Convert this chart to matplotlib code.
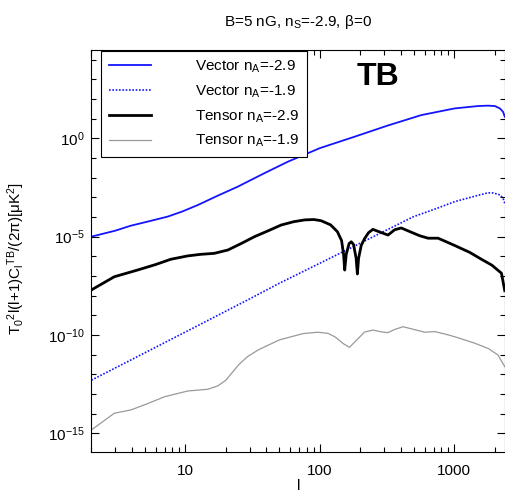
import numpy as np
import matplotlib
matplotlib.use("Agg")
import matplotlib.pyplot as plt
from matplotlib.ticker import FixedLocator, NullFormatter, LogFormatterSciNotation

plt.rcParams['font.family'] = ['Liberation Sans', 'DejaVu Sans']
plt.rcParams['mathtext.fontset'] = 'custom'
plt.rcParams['mathtext.rm'] = 'Liberation Sans'
plt.rcParams['mathtext.it'] = 'Liberation Sans:italic'
plt.rcParams['mathtext.bf'] = 'Liberation Sans:bold'

# multipole l and log10 of T0^2 l(l+1) C_l^TB / 2pi
l_vec29 = [2, 3.0, 3.9, 5.5, 7.4, 9.5, 12.4, 17, 24.5, 38, 57.8, 100, 181, 320, 568, 1006, 1500, 1780, 2000, 2180, 2300, 2370]
y_vec29 = [-5.0, -4.7, -4.45, -4.2, -3.98, -3.72, -3.39, -2.95, -2.46, -1.8, -1.19, -0.5, 0.08, 0.65, 1.18, 1.52, 1.64, 1.66, 1.64, 1.52, 1.35, 1.10]

l_vec19 = [2, 10.4, 29, 50, 158, 495, 750, 1006, 1500, 1780, 1950, 2190, 2300, 2370]
y_vec19 = [-12.3, -9.79, -8.22, -7.37, -5.68, -3.99, -3.55, -3.22, -2.9, -2.77, -2.78, -2.88, -3.05, -3.3]

l_ten29 = [2, 2.96, 4.4, 6, 7.8, 10.4, 13, 16.4, 20.7, 26, 32.7, 42, 51.5, 64, 77, 90, 102, 120, 135, 145,
           150, 153, 157, 165, 171, 178, 186, 190, 194, 203, 215, 230, 248, 275, 321,
           360, 403, 450, 550, 637, 757, 1006, 1300, 1589, 1900, 2240, 2370]
y_ten29 = [-7.71, -7.04, -6.70, -6.42, -6.15, -5.98, -5.9, -5.85, -5.68, -5.35, -5.0, -4.68, -4.41, -4.24, -4.15, -4.13, -4.19, -4.40, -4.75, -5.2,
           -5.9, -6.70, -5.9, -5.35, -5.26, -5.4, -6.1, -6.90, -6.1, -5.45, -5.1, -4.8, -4.63, -4.75, -4.92,
           -4.65, -4.56, -4.7, -4.95, -5.08, -5.08, -5.45, -5.8, -6.15, -6.45, -6.86, -7.75]

l_ten19 = [2, 2.96, 3.94, 5.2, 7.0, 10.4, 14.7, 17.4, 20, 25, 29, 35, 50, 75, 96.6, 115, 129, 150, 166,
           185, 215, 248, 290, 321, 360, 415, 500, 603, 715, 850, 1006, 1420, 1800, 2110, 2370]
y_ten19 = [-14.83, -13.98, -13.81, -13.5, -13.14, -12.85, -12.76, -12.59, -12.3, -11.5, -11.10, -10.75, -10.25, -9.93, -9.86, -9.92, -10.09, -10.45, -10.63,
           -10.3, -9.85, -9.75, -9.85, -9.88, -9.72, -9.58, -9.72, -9.86, -9.83, -9.95, -10.09, -10.42, -10.7, -11.02, -11.61]

fig = plt.figure(figsize=(5.05, 4.93), dpi=100)
ax = fig.add_axes([0.181, 0.0832, 0.819, 0.8154])

ax.plot(l_vec29, 10.0 ** np.array(y_vec29), color='#1414ff', lw=1.3, label=r'Vector n$_\mathrm{A}$=-2.9')
ax.plot(l_vec19, 10.0 ** np.array(y_vec19), color='#1414ff', lw=1.2, ls=(0, (1, 1)), label=r'Vector n$_\mathrm{A}$=-1.9')
ax.plot(l_ten29, 10.0 ** np.array(y_ten29), color='black', lw=2.0, label=r'Tensor n$_\mathrm{A}$=-2.9')
ax.plot(l_ten19, 10.0 ** np.array(y_ten19), color='#999999', lw=0.9, label=r'Tensor n$_\mathrm{A}$=-1.9')

ax.set_xscale('log')
ax.set_yscale('log')
ax.set_xlim(2, 2380)
ax.set_ylim(10 ** -15.95, 10 ** 4.49)

ax.xaxis.set_major_locator(FixedLocator([10, 100, 1000]))
ax.xaxis.set_major_formatter(plt.FuncFormatter(lambda v, p: '%d' % v))
ax.xaxis.set_minor_locator(FixedLocator([d * 10 ** k for k in range(0, 4) for d in range(2, 10)]))
ax.xaxis.set_minor_formatter(NullFormatter())
ax.yaxis.set_major_locator(FixedLocator([1e-15, 1e-10, 1e-5, 1]))
ax.yaxis.set_major_formatter(LogFormatterSciNotation())
ax.yaxis.set_minor_locator(FixedLocator(10.0 ** np.arange(-16, 5)))
ax.yaxis.set_minor_formatter(NullFormatter())

ax.tick_params(which='both', direction='in', top=True, right=True, labelsize=11, width=0.8)
ax.tick_params(which='major', length=6)
ax.tick_params(which='minor', length=3.5)
ax.tick_params(axis='x', which='major', pad=9)
ax.tick_params(axis='y', which='major', pad=5)

ax.set_xlabel('l', fontsize=11)
ax.xaxis.set_label_coords(0.5, -0.068)
ax.set_ylabel('T$_0$$^2$l(l+1)C$_\\mathrm{l}$$^\\mathrm{TB}$/(2π)[μK$^2$]', fontsize=11)
ax.yaxis.set_label_coords(-0.156, 0.48)

fig.text(0.59, 0.955, 'B=5 nG, n$_\\mathrm{S}$=-2.9, β=0', ha='center', va='center', fontsize=11)
ax.text(0.693, 0.933, 'TB', transform=ax.transAxes, ha='center', va='center',
        fontsize=23, fontweight='bold')

leg = ax.legend(loc='upper left', bbox_to_anchor=(0.023, 0.9975), borderaxespad=0,
                fontsize=11, handlelength=2.75, handletextpad=2.9, labelspacing=0.55,
                borderpad=0.5, fancybox=False, framealpha=1, edgecolor='black')
leg.get_frame().set_linewidth(0.8)

fig.savefig('out.png', dpi=100)
